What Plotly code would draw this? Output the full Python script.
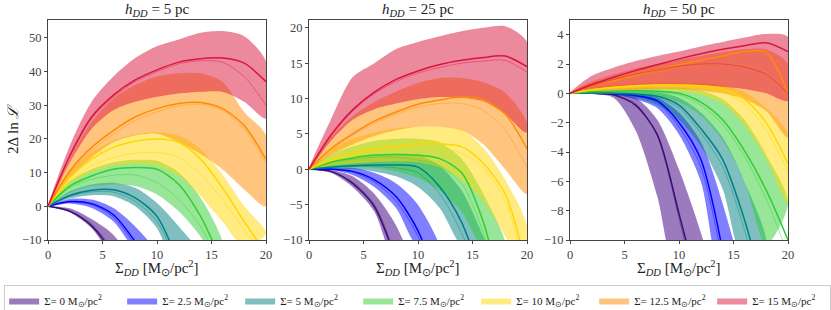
import plotly.graph_objects as go

# ---------------- data ----------------
x_sigma = [0, 2, 4, 6, 8, 10, 12, 14, 16, 18, 20]
sigma_labels = ["0", "2.5", "5", "7.5", "10", "12.5", "15"]
h_labels = ["5", "25", "50"]

# h_DD = 5 pc : per series (Sigma = 0 ... 15), values at x_sigma (truncated once off-axis)
h5_mid = [
    [0, -1.5, -5.8, -14],
    [0, 1.4, 0.8, -2.5, -10.5],
    [0, 3.2, 4.8, 4.9, 2.5, -3, -17],
    [0, 6, 9, 11, 11.5, 11, 6.5, -3, -17],
    [0, 8.5, 14, 17.5, 19.3, 20, 19, 14, 5.5, -4.5, -14],
    [0, 10.5, 17.5, 22.5, 26.5, 29, 30.5, 30.8, 29, 24, 14],
    [0, 15, 26.5, 33, 37.5, 40.5, 42.8, 43.8, 44, 42.5, 37],
]
h5_thin = [
    [0, -1.3, -5.3, -13],
    [0, 1.2, 0.5, -3.2, -11.5],
    [0, 3, 4.3, 4.2, 1.5, -4.5, -18],
    [0, 5.5, 8, 9.2, 9.3, 7, 2, -6, -19],
    [0, 7.5, 12, 14.5, 15.8, 16, 14.5, 9.5, 2, -7, -16],
    [0, 10, 16.5, 21.5, 25.5, 28, 29.8, 30.3, 28.5, 23, 13],
    [0, 14.7, 26, 32.5, 37, 40, 42.3, 43.2, 42.8, 38.5, 30],
]
h5_lo = [
    [0, -1.8, -6.5, -15],
    [0, 0.8, -0.5, -4.5, -12.5],
    [0, 2.3, 3.3, 3, 0, -6.5, -20],
    [0, 4, 6, 6.5, 6, 3.5, -1.5, -9, -20],
    [0, 6.5, 10, 12, 12.5, 12, 9, 3, -4.5, -12],
    [0, 8.5, 14.5, 19, 21, 21.5, 19, 15.5, 11, 5, 0],
    [0, 13, 23, 28.5, 31, 32.5, 33.5, 34, 34, 31, 26],
]
h5_hi = [
    [0, -0.6, -3.8, -8.5, -18],
    [0, 2.2, 2, -0.5, -6, -14],
    [0, 4.5, 6.5, 7, 5.5, 1, -6, -15],
    [0, 7.5, 11, 13, 13.8, 13.5, 10, 2.5, -10.5],
    [0, 10, 16, 19.5, 21.3, 22, 21, 17, 9.5, 0, -8],
    [0, 14, 25, 32, 36, 38.5, 39.5, 39.5, 37, 28, 21],
    [0, 18, 31, 38.5, 44, 47.5, 49.5, 51.5, 52, 50.5, 43],
]

# h_DD = 25 pc
h25_mid = [
    [0, -0.3, -2, -5.3, -13],
    [0, 0, -0.3, -1.5, -3.9, -8.7, -17],
    [0, 0.3, 0.5, 0.6, 0.6, 0.3, -2.5, -7.5, -16],
    [0, 1, 1.6, 2, 2.1, 2, 1.5, -0.5, -7.5, -20],
    [0, 1.3, 2.2, 2.9, 3.3, 3.6, 3.6, 3.2, 0.8, -3.5, -14],
    [0, 2.9, 5, 6.8, 8.1, 9.2, 9.8, 10.2, 9.8, 7.8, 2.9],
    [0, 4.8, 8.4, 10.9, 12.7, 13.9, 14.8, 15.4, 15.8, 16, 14.5],
]
h25_thin = [
    [0, -0.3, -1.8, -5, -12.5],
    [0, 0, -0.4, -1.8, -4.5, -9.5, -18],
    [0, 0.3, 0.4, 0.4, 0.2, -0.5, -3.5, -9, -17],
    [0, 0.9, 1.4, 1.7, 1.7, 1.3, 0.5, -2, -9, -21],
    [0, 1.2, 2, 2.6, 3, 3.2, 3, 2.3, 0.2, -4.5, -15],
    [0, 2.8, 4.8, 6.5, 7.8, 8.8, 9.3, 9.3, 8.3, 5.5, 0.3],
    [0, 4.7, 8.2, 10.7, 12.4, 13.6, 14.4, 15, 15.3, 15.4, 13.7],
]
h25_lo = [
    [0, -0.5, -2.5, -6, -14],
    [0, -0.1, -0.8, -2.5, -5.5, -11],
    [0, 0, 0, -0.3, -1, -2.5, -5.5, -11],
    [0, 0.2, 0.3, 0.2, -0.3, -1.2, -3, -6, -11],
    [0, 0.5, 0.8, 1, 1.1, 1, 0.3, -1.5, -4.5, -9.5, -16],
    [0, 2, 3.5, 4.7, 5.5, 6, 6, 5.5, 3.5, 0, -3.5],
    [0, 4, 7, 8.5, 9.3, 9.9, 10.2, 10.1, 9.6, 7.8, 5.2],
]
h25_hi = [
    [0, -0.1, -1, -3.5, -8, -16],
    [0, 0.2, 0.2, -0.5, -2, -5, -11.5],
    [0, 0.8, 1.5, 2, 2.2, 2, 0.5, -3, -9.5, -17],
    [0, 2, 3.2, 4, 4.3, 4.3, 3.8, 1.5, -3.5, -11],
    [0, 2.8, 4.3, 5.2, 5.8, 6, 6, 5.6, 3, -1.5, -8],
    [0, 4.5, 7.5, 9.5, 11, 12.2, 12.9, 12.9, 12.3, 10.8, 6.5],
    [0, 7, 13, 15, 17, 18, 18.8, 19.5, 20, 20.2, 18],
]

# h_DD = 50 pc
h50_mid = [
    [0, 0, -0.1, -0.8, -2.8, -8.2, -14],
    [0, 0, -0.02, -0.15, -0.5, -2, -4.5, -10.7],
    [0, 0, 0, -0.05, -0.2, -0.8, -2.4, -4.5, -8.6, -14],
    [0, 0.1, 0.15, 0.17, 0.15, 0, -0.6, -1.8, -3.9, -6.6, -10],
    [0, 0.25, 0.42, 0.52, 0.56, 0.57, 0.52, 0.3, -0.4, -2, -4.8],
    [0, 0.5, 0.85, 1.25, 1.6, 1.95, 2.25, 2.55, 2.85, 2.8, 0],
    [0, 0.6, 1.1, 1.55, 1.95, 2.35, 2.7, 3, 3.25, 3.45, 2.85],
]
h50_thin = [
    [0, 0, -0.12, -0.7, -2.9, -8.5, -15],
    [0, 0, -0.03, -0.2, -0.6, -2.3, -5, -11.5],
    [0, 0, -0.02, -0.1, -0.3, -1, -2.7, -5, -9.3, -15],
    [0, 0.08, 0.12, 0.12, 0.08, -0.1, -0.8, -2.1, -4.3, -7.2, -11],
    [0, 0.22, 0.38, 0.47, 0.5, 0.48, 0.4, 0.1, -0.7, -2.5, -5.3],
    [0, 0.45, 0.8, 1.15, 1.45, 1.7, 1.9, 2, 1.9, 1.4, -0.5],
    [0, 0.5, 0.95, 1.3, 1.6, 1.85, 2, 2, 1.8, 1.3, 0],
]
h50_lo = [
    [0, -0.02, -0.3, -2.5, -7, -13],
    [0, -0.02, -0.1, -0.4, -1, -2.8, -6, -13],
    [0, -0.02, -0.1, -0.3, -0.8, -1.8, -3.6, -6.5, -11.5],
    [0, 0, 0, -0.05, -0.2, -0.6, -1.5, -3.2, -6, -10.3],
    [0, 0.1, 0.2, 0.25, 0.25, 0.15, -0.1, -0.7, -2.2, -4.5, -7.5],
    [0, 0.1, 0.2, 0.25, 0.3, 0.3, 0.2, 0, -0.4, -1.2, -3],
    [0, 0.3, 0.45, 0.55, 0.6, 0.6, 0.55, 0.45, 0.3, 0, -0.5],
]
h50_hi = [
    [0, 0, -0.05, -0.3, -1.8, -5.2, -9.5, -15],
    [0, 0.02, 0.02, -0.05, -0.3, -1.3, -3.3, -7.5, -14],
    [0, 0.05, 0.1, 0.1, 0.05, -0.3, -1.3, -3, -6, -10.5],
    [0, 0.2, 0.3, 0.38, 0.4, 0.38, 0.2, -0.4, -1.8, -4.2, -7.5],
    [0, 0.35, 0.55, 0.67, 0.72, 0.73, 0.7, 0.55, 0.1, -1, -2.8],
    [0, 0.8, 1.3, 1.7, 2, 2.3, 2.55, 2.8, 3, 3, 2],
    [0, 1.2, 1.75, 2.2, 2.55, 2.85, 3.2, 3.5, 3.8, 4.05, 3.85],
]

y_ranges = [[-10, 55.3], [-10, 21.1], [-10, 5.0]]
y_dticks = [10, 5, 2]

# ---------------- style ----------------
band_colors = ["rgba(102,51,153,0.65)", "rgba(0,0,255,0.5)", "rgba(0,128,128,0.5)",
               "rgba(50,205,50,0.5)", "rgba(255,215,0,0.5)", "rgba(255,140,0,0.5)",
               "rgba(220,20,60,0.5)"]
line_colors = ["#3b0f78", "#0000ff", "#008080", "#32cd32", "#ffd700", "#ff8c00", "#dc143c"]
thin_colors = ["rgba(59,15,120,0.55)", "rgba(0,0,255,0.5)", "rgba(0,128,128,0.5)",
               "rgba(50,205,50,0.5)", "rgba(255,215,0,0.6)", "rgba(255,140,0,0.5)",
               "rgba(220,20,60,0.55)"]

FONT = "Liberation Serif"
W, H = 831, 310
x_px = [(48, 266), (309, 527), (570, 788)]
y_top, y_bot = 20, 240

panels = [
    (h5_mid, h5_thin, h5_lo, h5_hi),
    (h25_mid, h25_thin, h25_lo, h25_hi),
    (h50_mid, h50_thin, h50_lo, h50_hi),
]

fig = go.Figure()

for p, (mids, thins, los, his) in enumerate(panels):
    xa = "x" if p == 0 else f"x{p+1}"
    ya = "y" if p == 0 else f"y{p+1}"
    # bands
    for s in range(7):
        hi, lo = his[s], los[s]
        xs = x_sigma[:len(hi)] + x_sigma[:len(lo)][::-1]
        ys = hi + lo[::-1]
        fig.add_trace(go.Scatter(
            x=xs, y=ys, mode="lines", fill="toself", fillcolor=band_colors[s],
            line=dict(width=0, shape="spline", smoothing=0.8, color=band_colors[s]),
            xaxis=xa, yaxis=ya, hoverinfo="skip",
            name=f"Σ= {sigma_labels[s]} M<sub>⊙</sub>/pc<sup>2</sup>",
            legendgroup=f"s{s}", showlegend=(p == 0)))
    # lines
    for s in range(7):
        fig.add_trace(go.Scatter(
            x=x_sigma[:len(thins[s])], y=thins[s], mode="lines",
            line=dict(width=0.8, color=thin_colors[s], shape="spline", smoothing=0.8),
            xaxis=xa, yaxis=ya, showlegend=False, hoverinfo="skip"))
        fig.add_trace(go.Scatter(
            x=x_sigma[:len(mids[s])], y=mids[s], mode="lines",
            line=dict(width=1.5, color=line_colors[s], shape="spline", smoothing=0.8),
            xaxis=xa, yaxis=ya, showlegend=False, hoverinfo="skip"))

layout = dict(
    width=W, height=H, margin=dict(l=0, r=0, t=0, b=0, autoexpand=False),
    paper_bgcolor="white", plot_bgcolor="white",
    font=dict(family=FONT, size=12, color="#333"),
    showlegend=True,
    legend=dict(orientation="h", x=0.005, xanchor="left", y=1 - 285 / H, yanchor="top",
                bordercolor="#cccccc", borderwidth=1, bgcolor="white",
                font=dict(family=FONT, size=11, color="#222"),
                itemwidth=30, entrywidth=73, entrywidthmode="pixels",
                tracegroupgap=0),
)
annotations = []
for p in range(3):
    xs = "xaxis" if p == 0 else f"xaxis{p+1}"
    ys = "yaxis" if p == 0 else f"yaxis{p+1}"
    l, r = x_px[p]
    layout[xs] = dict(domain=[l / W, r / W], range=[0, 20], anchor="y" if p == 0 else f"y{p+1}",
                      showgrid=False, zeroline=False, showline=True, linecolor="#444", linewidth=1,
                      mirror=True, ticks="outside", ticklen=3, tickcolor="#444", automargin=False,
                      tickvals=[0, 5, 10, 15, 20],
                      tickfont=dict(family=FONT, size=12.5, color="#444"))
    layout[ys] = dict(domain=[1 - y_bot / H, 1 - y_top / H], range=y_ranges[p],
                      anchor="x" if p == 0 else f"x{p+1}", automargin=False,
                      showgrid=False, zeroline=False, showline=True, linecolor="#444", linewidth=1,
                      mirror=True, ticks="outside", ticklen=3, tickcolor="#444",
                      dtick=y_dticks[p], tick0=0,
                      tickfont=dict(family=FONT, size=12.5, color="#444"))
    cx = (l + r) / 2 / W
    annotations.append(dict(text=f"<i>h</i><sub><i>DD</i></sub> = {h_labels[p]} pc",
                            x=cx, y=1 - 10 / H, xref="paper", yref="paper",
                            xanchor="center", yanchor="middle", showarrow=False,
                            font=dict(family=FONT, size=15, color="#222")))
    annotations.append(dict(text="Σ<sub><i>DD</i></sub> [M<sub>⊙</sub>/pc<sup>2</sup>]",
                            x=cx, y=1 - 268 / H, xref="paper", yref="paper",
                            xanchor="center", yanchor="middle", showarrow=False,
                            font=dict(family=FONT, size=15, color="#222")))
annotations.append(dict(text="2Δ ln <i>ℒ</i>", x=13 / W, y=1 - 129 / H, xref="paper", yref="paper",
                        xanchor="center", yanchor="middle", textangle=-90, showarrow=False,
                        font=dict(family=FONT, size=15, color="#222")))
layout["annotations"] = annotations
fig.update_layout(**layout)
fig.write_html("out.html", config={"displayModeBar": False},
               post_script="document.body.style.margin='0';document.body.style.padding='0';")
